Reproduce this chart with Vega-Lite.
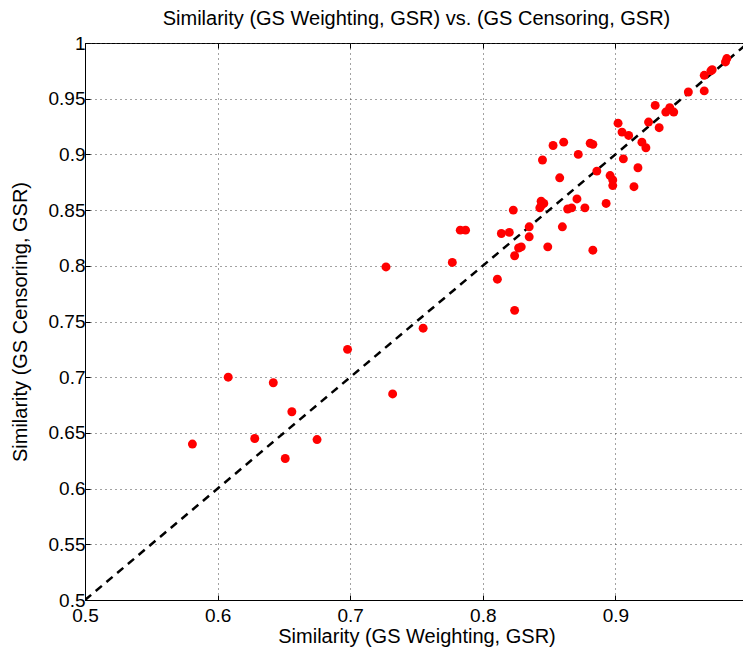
{
  "$schema": "https://vega.github.io/schema/vega-lite/v6.json",
  "autosize": "none",
  "width": 663,
  "height": 557,
  "padding": {"left": 85, "top": 43, "right": 0, "bottom": 49},
  "background": "white",
  "title": {"text": "Similarity (GS Weighting, GSR) vs. (GS Censoring, GSR)", "font": "Liberation Sans", "fontSize": 20, "fontWeight": "normal", "color": "black", "anchor": "middle", "offset": 5},
  "config": {
    "view": {"stroke": "black", "strokeWidth": 1},
    "axis": {
      "labelFont": "Liberation Sans", "labelFontSize": 19, "labelColor": "black", "labelFlush": false,
      "titleFont": "Liberation Sans", "titleFontSize": 20, "titleFontWeight": "normal", "titleColor": "black",
      "domainColor": "black", "tickColor": "black", "tickSize": -5,
      "gridColor": "#444", "gridDash": [1, 4], "gridOpacity": 1, "gridWidth": 1
    }
  },
  "resolve": {"axis": {"x": "independent", "y": "independent"}},
  "datasets": {
    "pts": [
      {"w": 0.581, "c": 0.640}, {"w": 0.608, "c": 0.700}, {"w": 0.628, "c": 0.645}, {"w": 0.642, "c": 0.695},
      {"w": 0.651, "c": 0.627}, {"w": 0.656, "c": 0.669}, {"w": 0.675, "c": 0.644}, {"w": 0.698, "c": 0.725},
      {"w": 0.732, "c": 0.685}, {"w": 0.727, "c": 0.799}, {"w": 0.755, "c": 0.744}, {"w": 0.777, "c": 0.803},
      {"w": 0.783, "c": 0.832}, {"w": 0.787, "c": 0.832}, {"w": 0.811, "c": 0.788}, {"w": 0.814, "c": 0.829},
      {"w": 0.820, "c": 0.830}, {"w": 0.823, "c": 0.850}, {"w": 0.824, "c": 0.809}, {"w": 0.824, "c": 0.760},
      {"w": 0.827, "c": 0.816}, {"w": 0.829, "c": 0.817}, {"w": 0.835, "c": 0.835}, {"w": 0.835, "c": 0.826},
      {"w": 0.843, "c": 0.852}, {"w": 0.844, "c": 0.858}, {"w": 0.844, "c": 0.854}, {"w": 0.846, "c": 0.856},
      {"w": 0.845, "c": 0.895}, {"w": 0.849, "c": 0.817}, {"w": 0.853, "c": 0.908}, {"w": 0.858, "c": 0.879},
      {"w": 0.860, "c": 0.835}, {"w": 0.861, "c": 0.911}, {"w": 0.864, "c": 0.851}, {"w": 0.867, "c": 0.852},
      {"w": 0.871, "c": 0.860}, {"w": 0.872, "c": 0.900}, {"w": 0.877, "c": 0.852}, {"w": 0.881, "c": 0.910},
      {"w": 0.883, "c": 0.909}, {"w": 0.883, "c": 0.814}, {"w": 0.886, "c": 0.885}, {"w": 0.893, "c": 0.856},
      {"w": 0.896, "c": 0.881}, {"w": 0.898, "c": 0.877}, {"w": 0.898, "c": 0.872}, {"w": 0.902, "c": 0.928},
      {"w": 0.905, "c": 0.920}, {"w": 0.906, "c": 0.896}, {"w": 0.910, "c": 0.917}, {"w": 0.914, "c": 0.871},
      {"w": 0.917, "c": 0.888}, {"w": 0.920, "c": 0.911}, {"w": 0.923, "c": 0.906}, {"w": 0.925, "c": 0.929},
      {"w": 0.930, "c": 0.944}, {"w": 0.933, "c": 0.924}, {"w": 0.938, "c": 0.938}, {"w": 0.941, "c": 0.942},
      {"w": 0.944, "c": 0.938}, {"w": 0.955, "c": 0.956}, {"w": 0.967, "c": 0.957}, {"w": 0.967, "c": 0.971},
      {"w": 0.972, "c": 0.975}, {"w": 0.973, "c": 0.976}, {"w": 0.983, "c": 0.983}, {"w": 0.984, "c": 0.986}
    ],
    "diag": [{"w": 0.5, "c": 0.5}, {"w": 1.0, "c": 1.0}]
  },
  "layer": [
    {
      "data": {"name": "diag"},
      "mark": {"type": "line", "color": "black", "strokeWidth": 2.5, "strokeDash": [8, 6], "clip": true},
      "encoding": {
        "x": {"field": "w", "type": "quantitative", "scale": {"domain": [0.5, 1], "nice": false, "zero": false},
          "axis": {"title": "Similarity (GS Weighting, GSR)", "values": [0.5, 0.6, 0.7, 0.8, 0.9, 1.0], "format": ".1~f", "labelPadding": 11, "titlePadding": 1}},
        "y": {"field": "c", "type": "quantitative", "scale": {"domain": [0.5, 1], "nice": false, "zero": false},
          "axis": {"title": "Similarity (GS Censoring, GSR)", "values": [0.5, 0.55, 0.6, 0.65, 0.7, 0.75, 0.8, 0.85, 0.9, 0.95, 1.0], "format": ".2~f", "labelPadding": 5, "titlePadding": 18}}
      }
    },
    {
      "data": {"name": "pts"},
      "mark": {"type": "circle", "color": "#ff0000", "opacity": 1, "size": 80},
      "encoding": {
        "x": {"field": "w", "type": "quantitative",
          "axis": {"orient": "top", "title": null, "labels": false, "grid": false, "domain": false, "values": [0.5, 0.6, 0.7, 0.8, 0.9, 1.0]}},
        "y": {"field": "c", "type": "quantitative",
          "axis": {"orient": "right", "title": null, "labels": false, "grid": false, "domain": false, "values": [0.5, 0.55, 0.6, 0.65, 0.7, 0.75, 0.8, 0.85, 0.9, 0.95, 1.0]}}
      }
    }
  ]
}
